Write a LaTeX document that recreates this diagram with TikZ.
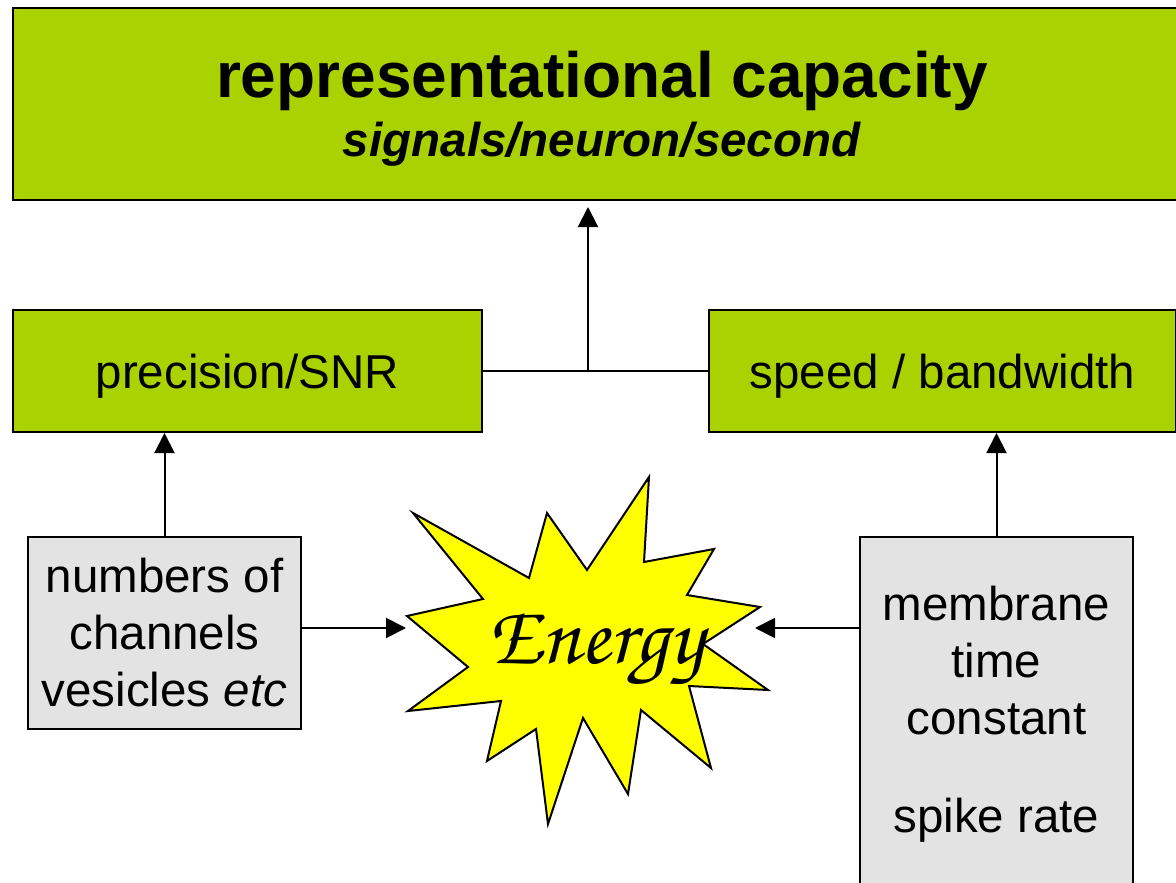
\documentclass[tikz,border=0pt]{standalone}
\usepackage[T1]{fontenc}
\usepackage{fontspec}
\setmainfont{Liberation Sans}
\usetikzlibrary{arrows.meta, positioning}

\definecolor{boxgreen}{RGB}{170,210,0}
\definecolor{boxgrey}{RGB}{227,227,227}
\definecolor{flash}{RGB}{255,255,0}
\newcommand{\chancery}{\fontencoding{T1}\fontfamily{pzc}\fontseries{mb}\fontshape{it}\selectfont}

\tikzset{
  goal/.style={draw, line width=2pt, fill=boxgreen, inner sep=0pt, align=center},
  factor/.style={draw, line width=1.5pt, fill=boxgrey, inner sep=0pt, align=center},
  link/.style={line width=2pt},
  feed/.style={line width=2pt, -{Triangle[length=20pt,width=20pt]}}
}

\begin{document}
\begin{tikzpicture}[x=1pt, y=-1pt, font=\fontsize{47.5}{57}\selectfont]
\useasboundingbox (0,0) rectangle (1176,883);

% top level
\node[goal, minimum width=1178pt, minimum height=192pt, text depth=-6pt, font=\fontsize{47.5}{59}\selectfont] (capacity) at (602,104)
  {{\bfseries\fontsize{64}{59}\selectfont representational capacity}\\\textbf{\textit{signals/neuron/second}}};

% middle level
\node[goal, minimum width=469pt, minimum height=122pt, text depth=0pt] (precision) at (247.5,371) {precision/SNR};
\node[goal, minimum width=467pt, minimum height=122pt, text depth=0pt, right=225pt of precision] (speed) {speed / bandwidth};

% bottom level
\node[factor, minimum width=273pt, minimum height=192pt] (numbers) at (164.5,633)
  {numbers of\\channels\\vesicles \textit{etc}};
\node[factor, minimum width=273pt, minimum height=354pt] (membrane) at (996.5,714)
  {membrane\\time\\constant\\[41pt]spike rate};

% the energy flash
\draw[line width=2pt, fill=flash] (649,477) -- (644,562) -- (714,549) -- (687,595) -- (760,607)
  -- (703,644) -- (768,690) -- (689,686) -- (711,768) -- (641,710) -- (628,794) -- (583,718)
  -- (548,824) -- (536,729) -- (487,761) -- (501,701) -- (408,711) -- (468,667) -- (407,616)
  -- (483,599) -- (413,513) -- (529,578) -- (547,513) -- (587,570) -- cycle;
\node[font=\chancery\fontsize{85}{85}\selectfont, anchor=base, inner sep=0pt] (energy) at (596,663) {Energy};
\coordinate (energyW) at (406,628);
\coordinate (energyE) at (755,628);

% connectors
\coordinate (join) at (588,371);
\draw[link] (precision.east) -- (speed.west);
\draw[feed, shorten >=6pt] (join) -- (join |- capacity.south);
\draw[feed] (numbers.north) -- (precision.south -| numbers.north);
\draw[feed] (membrane.north) -- (speed.south -| membrane.north);
\draw[feed] (energyW -| numbers.east) -- (energyW);
\draw[feed] (energyE -| membrane.west) -- (energyE);
\end{tikzpicture}
\end{document}
